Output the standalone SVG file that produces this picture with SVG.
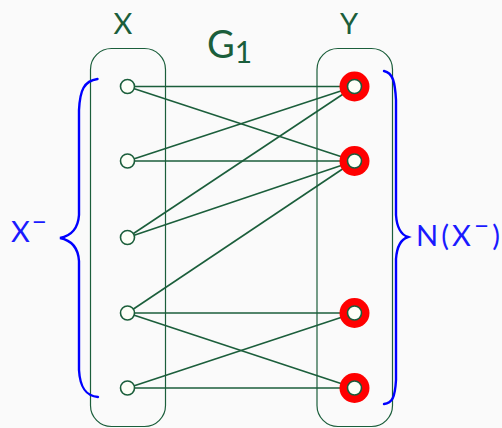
<svg xmlns="http://www.w3.org/2000/svg" width="502" height="428" viewBox="0 0 502 428">
<style>
.box{fill:none;stroke:#1b5e3b;stroke-width:1.2}
.edge{stroke:#1b5e3b;stroke-width:1.6;fill:none}
.node{fill:#fdfff7;stroke:#1b5e3b;stroke-width:1.6}
.ring{fill:#ff0000}
.brace{fill:none;stroke:#0000ff;stroke-width:2.4;stroke-linecap:round}
.g{font-family:Lato,"Open Sans",sans-serif;fill:#1b5e3b}
.b{font-family:Lato,"Open Sans",sans-serif;fill:#1a1aff}
</style>
<rect width="502" height="428" fill="#fafafa"/>
<g id="setX"><rect class="box" x="90.5" y="48.5" width="75" height="378" rx="21"/></g>
<g id="setY"><rect class="box" x="317" y="48.5" width="75.5" height="378" rx="21"/></g>
<g id="labels">
<text class="g" x="123" y="34" font-size="29" text-anchor="middle">X</text>
<text class="g" x="349" y="34" font-size="29" text-anchor="middle">Y</text>
<text class="g" x="207" y="58" font-size="38">G<tspan font-size="30" dy="5">1</tspan></text>
</g>
<g id="connectors">
<line class="edge" x1="127.5" y1="86.5" x2="354.5" y2="86.5"/>
<line class="edge" x1="127.5" y1="86.5" x2="354.5" y2="161"/>
<line class="edge" x1="127.5" y1="161" x2="354.5" y2="86.5"/>
<line class="edge" x1="127.5" y1="161" x2="354.5" y2="161"/>
<line class="edge" x1="127.5" y1="237.5" x2="354.5" y2="86.5"/>
<line class="edge" x1="127.5" y1="237.5" x2="354.5" y2="161"/>
<line class="edge" x1="127.5" y1="313" x2="354.5" y2="161"/>
<line class="edge" x1="127.5" y1="313" x2="354.5" y2="313"/>
<line class="edge" x1="127.5" y1="313" x2="354.5" y2="388"/>
<line class="edge" x1="127.5" y1="388" x2="354.5" y2="313"/>
<line class="edge" x1="127.5" y1="388" x2="354.5" y2="388"/>
</g>
<g id="x1"><circle class="node" cx="127.5" cy="86.5" r="7"/></g>
<g id="x2"><circle class="node" cx="127.5" cy="161" r="7"/></g>
<g id="x3"><circle class="node" cx="127.5" cy="237.5" r="7"/></g>
<g id="x4"><circle class="node" cx="127.5" cy="313" r="7"/></g>
<g id="x5"><circle class="node" cx="127.5" cy="388" r="7"/></g>
<g id="y1"><circle class="ring" cx="354.5" cy="86.5" r="15"/><circle class="node" cx="354.5" cy="86.5" r="7"/></g>
<g id="y2"><circle class="ring" cx="354.5" cy="161" r="15"/><circle class="node" cx="354.5" cy="161" r="7"/></g>
<g id="y3"><circle class="ring" cx="354.5" cy="313" r="15"/><circle class="node" cx="354.5" cy="313" r="7"/></g>
<g id="y4"><circle class="ring" cx="354.5" cy="388" r="15"/><circle class="node" cx="354.5" cy="388" r="7"/></g>
<g id="braceLeft">
<path class="brace" d="M97.5,79 C84,81 80,90 79,110 L79,215 C78,230 70,236 60,238 C70,240 78,246 79,261 L79,370 C80,388 86,396 98,397"/>
<text class="b" x="11" y="242" font-size="29">X<tspan font-size="26" dy="-11" dx="2">−</tspan></text>
</g>
<g id="braceRight">
<path class="brace" d="M384,71 C393,73 395,82 396,100 L396,215 C397,230 402,235 408,237 C402,239 397,244 396,259 L396,380 C395,398 392,403 384,404"/>
<text class="b" x="416" y="246" font-size="29" textLength="84" lengthAdjust="spacing">N(X<tspan font-size="26" dy="-11">−</tspan><tspan dy="11">)</tspan></text>
</g>
</svg>
